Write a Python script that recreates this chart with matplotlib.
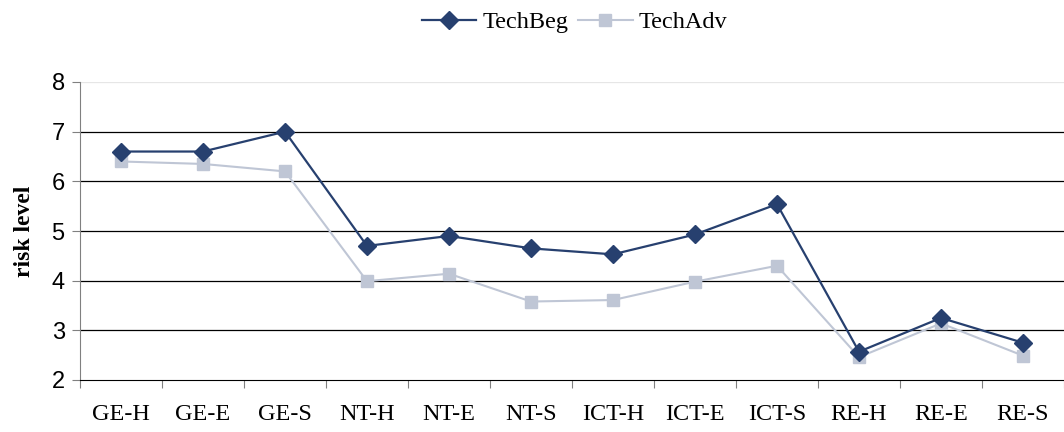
import matplotlib
matplotlib.use("Agg")
from matplotlib import pyplot as plt
import numpy as np

categories = ["GE-H", "GE-E", "GE-S", "NT-H", "NT-E", "NT-S",
              "ICT-H", "ICT-E", "ICT-S", "RE-H", "RE-E", "RE-S"]
tech_beg = [6.6, 6.6, 7.0, 4.7, 4.9, 4.65, 4.53, 4.93, 5.54, 2.57, 3.25, 2.75]
tech_adv = [6.4, 6.35, 6.2, 3.99, 4.14, 3.58, 3.61, 3.98, 4.3, 2.46, 3.14, 2.49]

serif = ["Liberation Serif", "DejaVu Serif"]
sans = ["Liberation Sans", "DejaVu Sans"]

fig = plt.figure(figsize=(10.64, 4.32), dpi=100)
ax = fig.add_axes([80 / 1064, 1 - 380 / 432, 1 - 80 / 1064, (380 - 82) / 432])

x = np.arange(len(categories))

# gridlines
for y in range(3, 8):
    ax.axhline(y, color="black", lw=0.9, zorder=1)
ax.axhline(8, color="#e6e6e6", lw=0.9, zorder=1)

ax.plot(x, tech_beg, color="#27406f", lw=1.6, marker="D", markersize=9,
        label="TechBeg", zorder=4)
ax.plot(x, tech_adv, color="#bfc6d5", lw=1.5, marker="s", markersize=9,
        label="TechAdv", zorder=3)

ax.set_xlim(-0.5, len(categories) - 0.5)
ax.set_ylim(2, 8)

# category boundary ticks, labels centred
ax.set_xticks(np.arange(-0.5, len(categories), 1.0))
ax.set_xticklabels([])
ax.set_xticks(x, minor=True)
ax.set_xticklabels(categories, minor=True, fontsize=17.5, family=serif)
ax.tick_params(axis="x", which="major", length=6, color="#808080", direction="out")
ax.tick_params(axis="x", which="minor", length=0, pad=17)

ax.set_yticks(range(2, 9))
ax.tick_params(axis="y", length=6, color="#808080", direction="out", pad=5)
for lbl in ax.get_yticklabels():
    lbl.set_fontsize(17)
    lbl.set_family(sans)

ax.set_ylabel("risk level", fontsize=17, fontweight="bold", family=serif, labelpad=12)

ax.spines["top"].set_visible(False)
ax.spines["right"].set_visible(False)
ax.spines["left"].set_color("#808080")
ax.spines["bottom"].set_color("black")

fig.legend(loc="upper center", bbox_to_anchor=(0.540, 1.025), ncol=2, frameon=False,
           prop={"family": serif, "size": 17.5}, handlelength=2.25,
           columnspacing=0.4, handletextpad=0.25)

fig.savefig("out.png", dpi=100)
